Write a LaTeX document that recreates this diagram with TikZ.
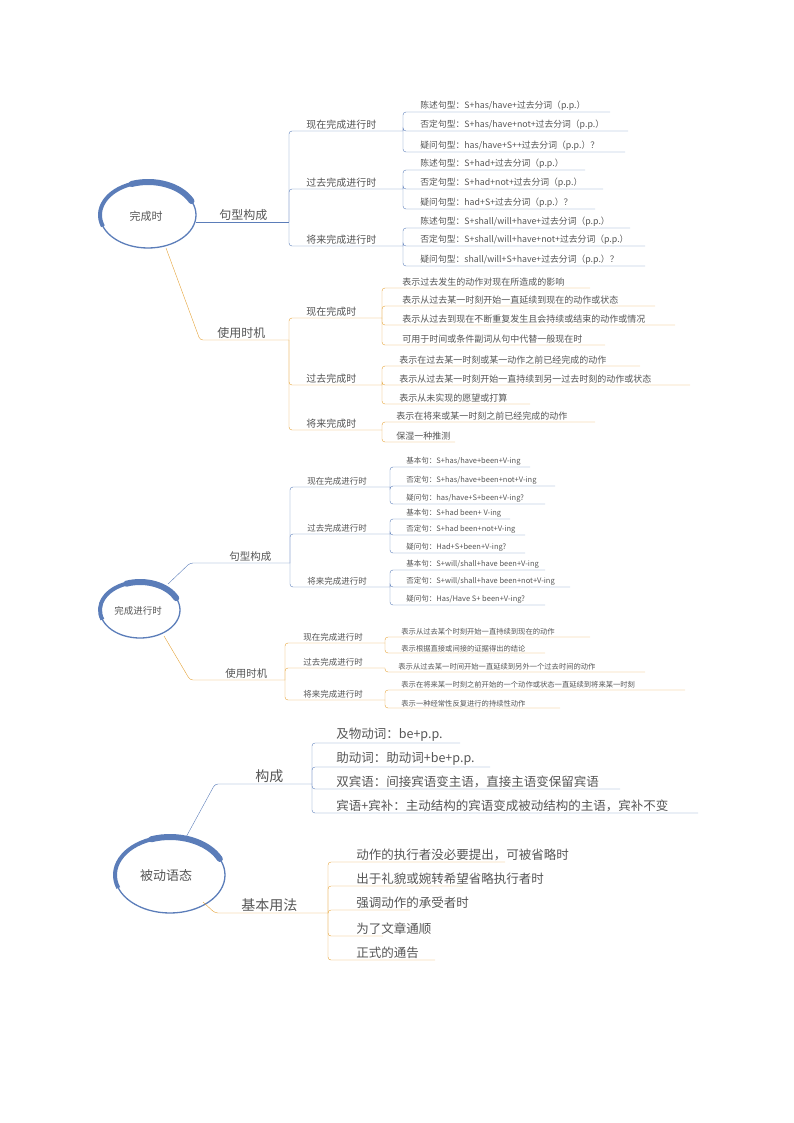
\documentclass[tikz,border=0pt]{standalone}
\usepackage{fontspec}
\setmainfont{Noto Sans CJK SC}
\definecolor{bl}{HTML}{5B7DB9}
\definecolor{og}{HTML}{E4A236}
\definecolor{tx}{HTML}{555555}
\newcommand\fz[1]{\fontsize{#1}{#1}\selectfont}
% #1 name #2 color #3 xv #4 yp #5 yc #6 xend #7 textx #8 size #9 text
\newcommand\br[9]{%
 \coordinate (#1a) at (#3,#4); \coordinate (#1b) at (#6,#5);
 \node[txt,font=\fz{#8}] (#1) at (#7,#5) {#9};
 \draw[#2,rounded corners=3pt] (#1a) -- (#1a |- #1b) -- (#1b);}
\newcommand\swoosh[4]{% cx cy rx ry
 \draw[bl,line width=1.3pt] (#1,#2) ellipse [x radius=#3,y radius=#4];
 \draw[bl,line width=4pt] ($(#1,#2)+(-200:#3 and #4)$) arc[start angle=-200,end angle=-110,x radius=#3,y radius=#4];
 \draw[bl,line width=6pt,line cap=round] ($(#1,#2)+(-110:#3 and #4)$) arc[start angle=-110,end angle=-25,x radius=#3,y radius=#4];}
\begin{document}
\begin{tikzpicture}[x=1pt,y=-1pt,
 txt/.style={anchor=south west,inner sep=1.2pt,text=tx}]
\usetikzlibrary{calc}
\useasboundingbox (0,0) rectangle (794,1123);
% ===== Section 1 =====
\swoosh{148}{215}{48}{33}
\node[text=tx,font=\fz{11}] (r1) at (146,216) {完成时};
\node[txt,font=\fz{12}] (s1a) at (218,222) {句型构成};
\draw[bl] (196,222) -- (289,222);
\br{a1}{bl}{289}{222}{131}{403}{305}{10}{现在完成进行时}
\br{a2}{bl}{289}{222}{189}{403}{305}{10}{过去完成进行时}
\br{a3}{bl}{289}{222}{246}{403}{305}{10}{将来完成进行时}
\br{a11}{bl}{403}{131}{112}{610}{419}{8.8}{陈述句型：S+has/have+过去分词（p.p.）}
\br{a12}{bl}{403}{131}{131}{628}{419}{8.8}{否定句型：S+has/have+not+过去分词（p.p.）}
\br{a13}{bl}{403}{131}{152}{625}{419}{8.8}{疑问句型：has/have+S++过去分词（p.p.）？}
\br{a21}{bl}{403}{189}{170}{585}{419}{8.8}{陈述句型：S+had+过去分词（p.p.）}
\br{a22}{bl}{403}{189}{189}{603}{419}{8.8}{否定句型：S+had+not+过去分词（p.p.）}
\br{a23}{bl}{403}{189}{209}{595}{419}{8.8}{疑问句型：had+S+过去分词（p.p.）？}
\br{a31}{bl}{403}{246}{228}{630}{419}{8.8}{陈述句型：S+shall/will+have+过去分词（p.p.）}
\br{a32}{bl}{403}{246}{246}{645}{419}{8.8}{否定句型：S+shall/will+have+not+过去分词（p.p.）}
\br{a33}{bl}{403}{246}{266}{645}{419}{8.8}{疑问句型：shall/will+S+have+过去分词（p.p.）？}
\node[txt,font=\fz{12}] (s1b) at (216,340) {使用时机};
\draw[og,rounded corners=3pt] (166,248) -- (200,340) -- (289,340);
\br{b1}{og}{289}{340}{318}{382}{305}{10}{现在完成时}
\br{b2}{og}{289}{340}{385}{382}{305}{10}{过去完成时}
\br{b3}{og}{289}{340}{430}{382}{305}{10}{将来完成时}
\br{b11}{og}{382}{318}{288}{590}{401}{9}{表示过去发生的动作对现在所造成的影响}
\br{b12}{og}{382}{318}{306}{655}{401}{9}{表示从过去某一时刻开始一直延续到现在的动作或状态}
\br{b13}{og}{382}{318}{325}{675}{401}{9}{表示从过去到现在不断重复发生且会持续或结束的动作或情况}
\br{b14}{og}{382}{318}{345}{605}{401}{9}{可用于时间或条件副词从句中代替一般现在时}
\br{b21}{og}{382}{385}{366}{640}{398}{9}{表示在过去某一时刻或某一动作之前已经完成的动作}
\br{b22}{og}{382}{385}{385}{690}{398}{9}{表示从过去某一时刻开始一直持续到另一过去时刻的动作或状态}
\br{b23}{og}{382}{385}{404}{530}{398}{9}{表示从未实现的愿望或打算}
\br{b31}{og}{382}{430}{422}{595}{395}{9}{表示在将来或某一时刻之前已经完成的动作}
\br{b32}{og}{382}{430}{442}{455}{395}{9}{保湿一种推测}
% ===== Section 2 =====
\swoosh{140}{610}{40}{28}
\node[text=tx,font=\fz{9.5}] (r2) at (138,611) {完成进行时};
\node[txt,font=\fz{10.5}] (s2a) at (228,563) {句型构成};
\draw[bl,rounded corners=3pt] (168,584) -- (190,563) -- (290,563);
\br{c1}{bl}{290}{563}{487}{390}{306}{8.5}{现在完成进行时}
\br{c2}{bl}{290}{563}{534}{390}{306}{8.5}{过去完成进行时}
\br{c3}{bl}{290}{563}{587}{390}{306}{8.5}{将来完成进行时}
\br{c11}{bl}{390}{487}{467}{530}{405}{7.5}{基本句：S+has/have+been+V-ing}
\br{c12}{bl}{390}{487}{486}{555}{405}{7.5}{否定句：S+has/have+been+not+V-ing}
\br{c13}{bl}{390}{487}{504}{545}{405}{7.5}{疑问句：has/have+S+been+V-ing?}
\br{c21}{bl}{390}{534}{519}{510}{405}{7.5}{基本句：S+had been+ V-ing}
\br{c22}{bl}{390}{534}{535}{525}{405}{7.5}{否定句：S+had been+not+V-ing}
\br{c23}{bl}{390}{534}{553}{525}{405}{7.5}{疑问句：Had+S+been+V-ing?}
\br{c31}{bl}{390}{587}{570}{545}{405}{7.5}{基本句：S+will/shall+have been+V-ing}
\br{c32}{bl}{390}{587}{587}{570}{405}{7.5}{否定句：S+will/shall+have been+not+V-ing}
\br{c33}{bl}{390}{587}{605}{545}{405}{7.5}{疑问句：Has/Have S+ been+V-ing?}
\node[txt,font=\fz{10.5}] (s2b) at (224,680) {使用时机};
\draw[og,rounded corners=3pt] (164,636) -- (190,680) -- (285,680);
\br{d1}{og}{285}{680}{643}{385}{302}{8.5}{现在完成进行时}
\br{d2}{og}{285}{680}{668}{385}{302}{8.5}{过去完成进行时}
\br{d3}{og}{285}{680}{700}{385}{302}{8.5}{将来完成进行时}
\br{d11}{og}{385}{643}{637}{590}{400}{7.3}{表示从过去某个时刻开始一直持续到现在的动作}
\br{d12}{og}{385}{643}{653}{545}{400}{7.3}{表示根据直接或间接的证据得出的结论}
\br{d21}{og}{385}{668}{672}{645}{397}{7.3}{表示从过去某一时间开始一直延续到另外一个过去时间的动作}
\br{d31}{og}{385}{700}{690}{685}{400}{7.3}{表示在将来某一时刻之前开始的一个动作或状态一直延续到将来某一时刻}
\br{d32}{og}{385}{700}{708}{560}{400}{7.3}{表示一种经常性反复进行的持续性动作}
% ===== Section 3 =====
\swoosh{170}{875}{55}{38}
\node[text=tx,font=\fz{13}] (r3) at (166,876) {被动语态};
\node[txt,font=\fz{14}] (s3a) at (254,784) {构成};
\draw[bl,rounded corners=3pt] (185,839) -- (215,784) -- (312,784);
\br{e1}{bl}{312}{784}{743}{460}{335}{12.5}{及物动词：be+p.p.}
\br{e2}{bl}{312}{784}{767}{490}{335}{12.5}{助动词：助动词+be+p.p.}
\br{e3}{bl}{312}{784}{789}{620}{335}{12.5}{双宾语：间接宾语变主语，直接主语变保留宾语}
\br{e4}{bl}{312}{784}{813}{698}{335}{12.5}{宾语+宾补：主动结构的宾语变成被动结构的主语，宾补不变}
\node[txt,font=\fz{14}] (s3b) at (240,913) {基本用法};
\draw[og,rounded corners=3pt] (203,902) -- (215,913) -- (328,913);
\br{f1}{og}{328}{913}{862}{505}{355}{12.5}{动作的执行者没必要提出，可被省略时}
\br{f2}{og}{328}{913}{886}{463}{355}{12.5}{出于礼貌或婉转希望省略执行者时}
\br{f3}{og}{328}{913}{910}{410}{355}{12.5}{强调动作的承受者时}
\br{f4}{og}{328}{913}{936}{383}{355}{12.5}{为了文章通顺}
\br{f5}{og}{328}{913}{960}{435}{355}{12.5}{正式的通告}
\end{tikzpicture}
\end{document}
